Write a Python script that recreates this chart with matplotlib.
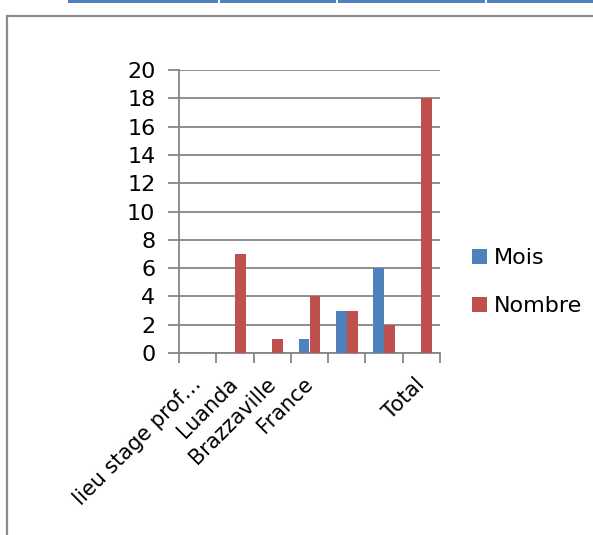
import matplotlib.pyplot as plt
import numpy as np
from matplotlib.patches import Rectangle
from matplotlib.lines import Line2D

categories = ["lieu stage prof…", "Luanda", "Brazzaville", "France", "", "", "Total"]
mois = [0, 0, 0, 1, 3, 6, 0]
nombre = [0, 7, 1, 4, 3, 2, 18]

blue = "#4F81BD"
red = "#C0504D"
grey = "#868686"

plt.rcParams['font.family'] = ['DejaVu Sans']

W, H = 593, 535
fig = plt.figure(figsize=(W / 100, H / 100), dpi=100)

# page decorations: table border on top, chart frame
fig.add_artist(Rectangle((68 / W, 1 - 3 / H), 1 - 68 / W, 3 / H, transform=fig.transFigure,
                         facecolor=blue, edgecolor="none"))
for gx in [218, 336, 485]:
    fig.add_artist(Rectangle((gx / W, 1 - 3 / H), 1.5 / W, 3 / H, transform=fig.transFigure,
                             facecolor="white", edgecolor="none"))
fig.add_artist(Line2D([7 / W, 1], [1 - 16 / H, 1 - 16 / H], transform=fig.transFigure,
                      color="#8c8c8c", lw=1.6))
fig.add_artist(Line2D([7 / W, 7 / W], [0, 1 - 16 / H], transform=fig.transFigure,
                      color="#8c8c8c", lw=1.6))

ax = fig.add_axes([179 / W, 182 / H, 261 / W, 283 / H])
x = np.arange(len(categories))
bw = 0.29
ax.bar(x - bw / 2, mois, bw, color=blue, label="Mois", zorder=3)
ax.bar(x + bw / 2, nombre, bw, color=red, label="Nombre", zorder=3)

ax.set_xlim(-0.5, len(categories) - 0.5)
ax.set_ylim(0, 20)
ax.set_yticks(range(0, 21, 2))
ax.yaxis.grid(True, color=grey, lw=1.3, zorder=0)
for s in ["top", "right"]:
    ax.spines[s].set_visible(False)
for s in ["left", "bottom"]:
    ax.spines[s].set_color(grey)
    ax.spines[s].set_linewidth(1.3)

ax.set_xticks(x)
ax.set_xticklabels(categories, rotation=45, ha="right", va="center",
                   rotation_mode="anchor", fontsize=15)
ax.tick_params(axis="x", length=0, pad=20)
ax.set_xticks(np.arange(-0.5, len(categories)), minor=True)
ax.tick_params(axis="x", which="minor", length=7, width=1.3, color=grey)
ax.tick_params(axis="y", length=8, width=1.3, color=grey, labelsize=16, pad=9)

ax.legend(loc="center left", bbox_to_anchor=(1.045, 0.25), frameon=False, fontsize=16,
          handlelength=0.7, handleheight=0.7, handletextpad=0.3, labelspacing=1.25)

fig.savefig("out.png", dpi=100)
